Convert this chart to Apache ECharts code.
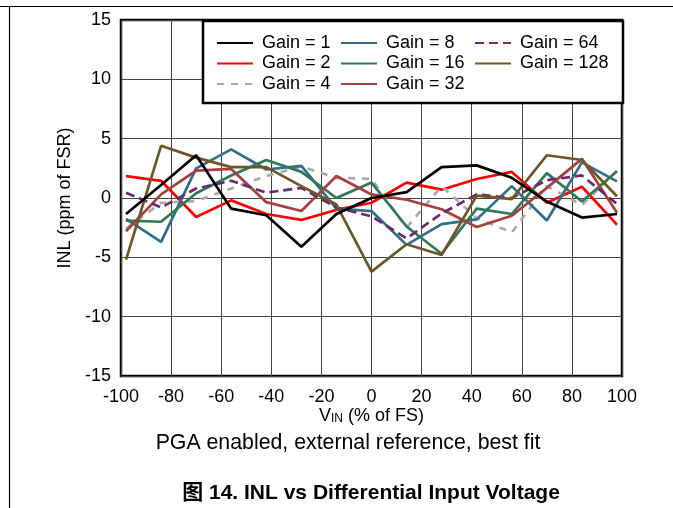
<!DOCTYPE html>
<html>
<head>
<meta charset="utf-8">
<script src="https://cdn.jsdelivr.net/npm/echarts/dist/echarts.min.js"></script>
<style>
html,body{margin:0;padding:0;background:#fff;}
#c{width:673px;height:508px;}
</style>
</head>
<body>
<div id="c"></div>
<script>
// ---- data ----
var vin = [-98, -84, -70, -56, -42, -28, -14, 0, 14, 28, 42, 56, 70, 84, 98];
var gain1   = [-1.35, 1.1, 3.6, -0.9, -1.45, -4.1, -1.35, 0, 0.5, 2.6, 2.75, 1.7, -0.3, -1.65, -1.35];
var gain2   = [1.85, 1.45, -1.6, -0.2, -1.35, -1.85, -1.0, -0.4, 1.3, 0.7, 1.6, 2.2, -0.4, 0.95, -2.25];
var gain4   = [-2.6, -0.4, -0.25, 0.8, 1.85, 2.65, 1.7, 1.6, -2.5, 1.0, -1.7, -2.9, 1.0, -0.6, 2.3];
var gain8   = [-1.75, -3.7, 2.5, 4.1, 2.4, 2.7, -0.9, -1.1, -3.95, -2.2, -1.8, 1.0, -1.9, 3.0, 1.4];
var gain16  = [-1.9, -2.0, 0.4, 1.9, 3.2, 2.2, 0.0, 1.3, -2.4, -4.7, -0.9, -1.35, 2.1, -0.3, 2.25];
var gain32  = [-2.8, 0.3, 2.3, 2.45, -0.35, -1.1, 1.85, 0.3, -0.15, -0.95, -2.45, -1.5, 0.85, 3.3, -1.25];
var gain64  = [0.45, -0.8, 0.8, 1.45, 0.45, 0.85, -0.8, -1.55, -3.4, -1.3, 0.3, 0.0, 1.5, 1.9, -0.5];
var gain128 = [-5.2, 4.4, 3.4, 2.6, 2.6, 1.0, -0.55, -6.2, -3.9, -4.8, 0.2, -0.1, 3.6, 3.2, 0.15];

var seriesNames = ['Gain = 1','Gain = 2','Gain = 4','Gain = 8','Gain = 16','Gain = 32','Gain = 64','Gain = 128'];
var seriesData  = [gain1, gain2, gain4, gain8, gain16, gain32, gain64, gain128];
var seriesColors = ['#000000','#ff0000','#aaaaaa','#316e8a','#2f7a55','#a6403e','#6c2a6c','#6e5628'];
var seriesDash   = ['solid','solid',[7,7],'solid','solid','solid',[9,5],'solid'];

var FONT = "'Liberation Sans', Arial, 'Noto Sans CJK SC', sans-serif";

var series = seriesNames.map(function(n, k){
  return {
    name: n,
    type: 'line',
    symbol: 'none',
    data: vin.map(function(x, i){ return [x, seriesData[k][i]]; }),
    lineStyle: {color: seriesColors[k], width: 2.7, type: seriesDash[k]},
    itemStyle: {color: seriesColors[k]},
    z: 2 + (k === 0 ? 1 : 0)
  };
});

function legendCol(names, left){
  return {
    data: names, orient: 'vertical', left: left, top: 34, padding: 0,
    itemWidth: 36, itemHeight: 18, itemGap: 2.5,
    selectedMode: false, z: 100,
    itemStyle: {opacity: 0},
    textStyle: {fontSize: 18, fontFamily: FONT, color: '#000', padding: [0,0,0,4]}
  };
}

var chart = echarts.init(document.getElementById('c'), null, {renderer: 'canvas'});
chart.setOption({
  animation: false,
  backgroundColor: '#fff',
  grid: {left: 121, right: 51, top: 20, bottom: 132, show: true, borderColor: '#000', borderWidth: 2.5},
  xAxis: {
    type: 'value', min: -100, max: 100, interval: 20,
    axisLine: {show: false}, axisTick: {show: false},
    splitLine: {show: true, lineStyle: {color: '#444', width: 1}},
    axisLabel: {fontSize: 18, fontFamily: FONT, color: '#000', margin: 12},
    name: '{v|V}{s|IN}{v| (% of FS)}', nameLocation: 'middle', nameGap: 31,
    nameMoveOverlap: false,
    nameTextStyle: {verticalAlign: 'top', rich: {
      v: {fontSize: 18, fontFamily: FONT, color: '#000'},
      s: {fontSize: 12, fontFamily: FONT, color: '#000', verticalAlign: 'bottom', padding: [6,0,0,0]}
    }}
  },
  yAxis: {
    type: 'value', min: -15, max: 15, interval: 5,
    axisLine: {show: false}, axisTick: {show: false},
    splitLine: {show: true, lineStyle: {color: '#444', width: 1}},
    axisLabel: {fontSize: 18, fontFamily: FONT, color: '#000', margin: 10},
    name: 'INL (ppm of FSR)', nameLocation: 'middle', nameGap: 45,
    nameTextStyle: {fontSize: 18, fontFamily: FONT, color: '#000'}
  },
  legend: [
    legendCol(['Gain = 1','Gain = 2','Gain = 4'], 216),
    legendCol(['Gain = 8','Gain = 16','Gain = 32'], 340),
    legendCol(['Gain = 64','Gain = 128'], 474)
  ],
  graphic: [
    {type: 'rect', z: 50, shape: {x: 203, y: 21, width: 420, height: 82},
     style: {fill: '#fff', stroke: '#000', lineWidth: 2.5}},
    {type: 'line', z: 50, shape: {x1: 0, y1: 6.5, x2: 673, y2: 6.5}, style: {stroke: '#000', lineWidth: 1.2}},
    {type: 'line', z: 50, shape: {x1: 9.5, y1: 6.5, x2: 9.5, y2: 508}, style: {stroke: '#000', lineWidth: 1.2}},
    {type: 'text', z: 50, style: {text: 'PGA enabled, external reference, best fit', x: 348, y: 443,
      textAlign: 'center', textVerticalAlign: 'middle', fontSize: 21.3, fontFamily: FONT, fill: '#000'}},
    {type: 'text', z: 50, style: {text: '图 14. INL vs Differential Input Voltage', x: 371, y: 493,
      textAlign: 'center', textVerticalAlign: 'middle', fontSize: 21, fontWeight: 'bold', fontFamily: FONT, fill: '#000'}}
  ],
  series: series
});
</script>
</body>
</html>
